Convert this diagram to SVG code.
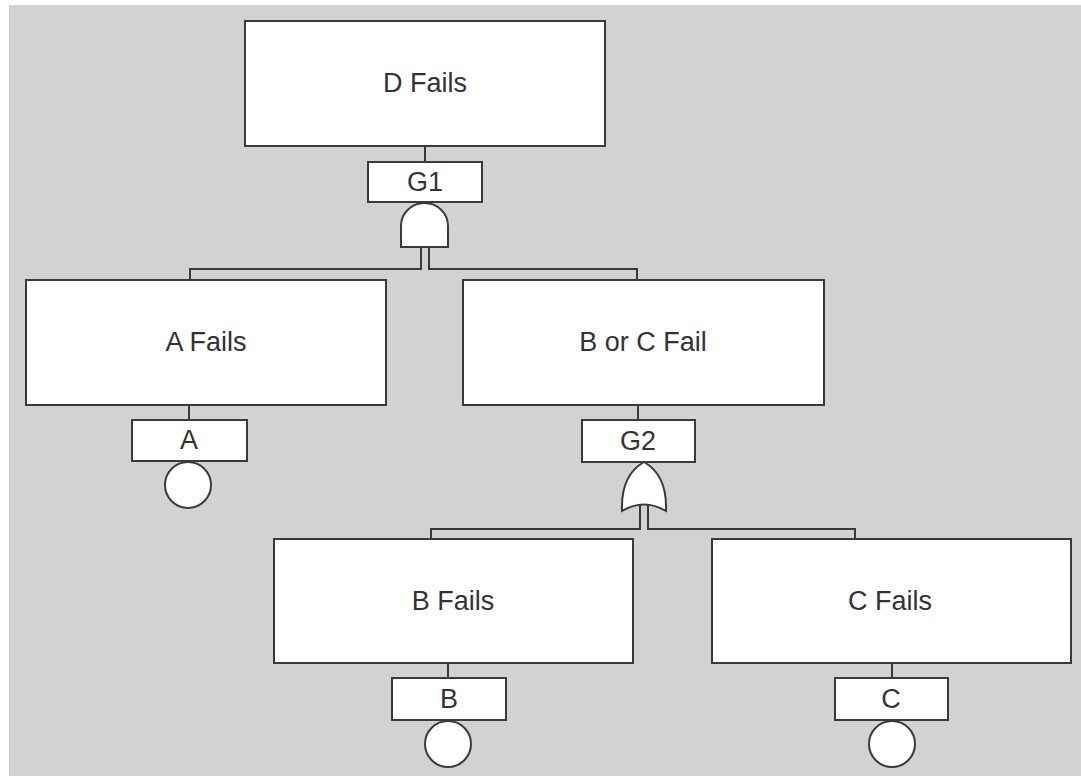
<svg xmlns="http://www.w3.org/2000/svg" width="1081" height="776" viewBox="0 0 1081 776">
<style>
.box{fill:#fff;stroke:#3a3a3a;stroke-width:2}
.lbl{fill:#fff;stroke:#3a3a3a;stroke-width:2}
.gate{fill:#fff;stroke:#3a3a3a;stroke-width:2}
.wire{fill:none;stroke:#3a3a3a;stroke-width:2}
text{font-family:"Liberation Sans",Arial,sans-serif;font-size:27px;fill:#333;text-anchor:middle;dominant-baseline:central}
</style>
<rect x="0" y="0" width="1081" height="776" fill="#fff"/>
<rect x="9" y="5" width="1072" height="771" fill="#d1d2d4"/>
<g id="connectors">
<path class="wire" d="M425,146 V162"/>
<path class="wire" d="M421,247 V269 H190 V280"/>
<path class="wire" d="M429,247 V269 H637 V280"/>
<path class="wire" d="M189,405 V420"/>
<path class="wire" d="M638,405 V420"/>
<path class="wire" d="M640,505 V529 H431 V539"/>
<path class="wire" d="M648,505 V529 H855 V539"/>
<path class="wire" d="M448,663 V678"/>
<path class="wire" d="M892,663 V678"/>
</g>
<g id="D">
<rect class="box" x="245" y="21" width="360" height="125"/>
<text x="425" y="83">D Fails</text>
</g>
<g id="G1">
<rect class="lbl" x="368" y="162" width="114" height="40"/>
<text x="425" y="182">G1</text>
<path class="gate" d="M401,247 V226 A23.5,23 0 0 1 448,226 V247 Z"/>
</g>
<g id="A_Fails">
<rect class="box" x="26" y="280" width="360" height="125"/>
<text x="206" y="342">A Fails</text>
</g>
<g id="BC">
<rect class="box" x="463" y="280" width="361" height="125"/>
<text x="643" y="342">B or C Fail</text>
</g>
<g id="A">
<rect class="lbl" x="132" y="420" width="115" height="41"/>
<text x="189" y="440">A</text>
<circle class="gate" cx="188" cy="485" r="23"/>
</g>
<g id="G2">
<rect class="lbl" x="582" y="420" width="113" height="42"/>
<text x="638" y="441">G2</text>
<path class="gate" d="M622,511 C621,486 630,470 644,462 C658,470 667,486 666,511 Q644,498 622,511 Z"/>
</g>
<g id="B_Fails">
<rect class="box" x="274" y="539" width="359" height="124"/>
<text x="453" y="601">B Fails</text>
</g>
<g id="C_Fails">
<rect class="box" x="712" y="539" width="359" height="124"/>
<text x="890" y="601">C Fails</text>
</g>
<g id="B">
<rect class="lbl" x="392" y="678" width="114" height="42"/>
<text x="449" y="699">B</text>
<circle class="gate" cx="448" cy="744" r="23"/>
</g>
<g id="C">
<rect class="lbl" x="835" y="678" width="113" height="42"/>
<text x="891" y="699">C</text>
<circle class="gate" cx="892" cy="744" r="23"/>
</g>
</svg>
